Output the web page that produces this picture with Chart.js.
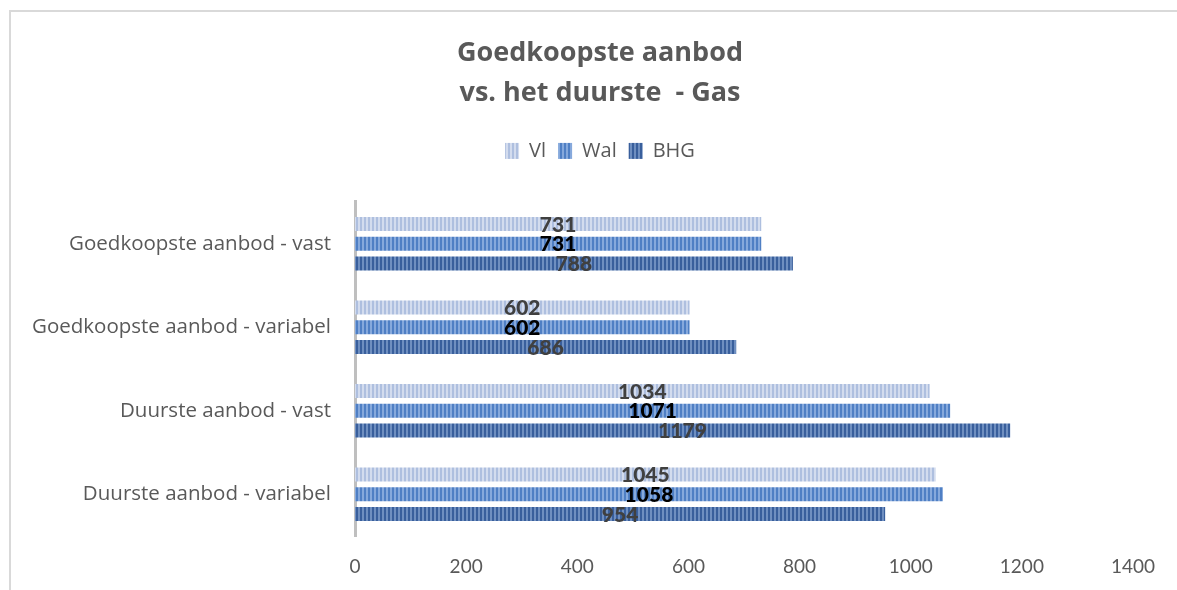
<!DOCTYPE html>
<html>
<head>
<meta charset="utf-8">
<script src="https://cdn.jsdelivr.net/npm/chart.js@4.4.1/dist/chart.umd.min.js"></script>
<style>
  html, body { margin: 0; padding: 0; background: #fff; }
  #wrap { position: relative; width: 1177px; height: 590px; overflow: hidden; }
  #frame { position: absolute; left: 9px; top: 10px; width: 1200px; height: 600px;
           border-top: 2px solid #d9d9d9; border-left: 2px solid #d9d9d9; }
  canvas { position: absolute; left: 0; top: 0; }
</style>
</head>
<body>
<div id="wrap">
  <div id="frame"></div>
  <canvas id="chart" width="1177" height="590"></canvas>
</div>
<script>
const categories = [
    'Goedkoopste aanbod - vast',
    'Goedkoopste aanbod - variabel',
    'Duurste aanbod - vast',
    'Duurste aanbod - variabel'
];
const seriesNames = ['Vl', 'Wal', 'BHG'];
const vlValues = [731, 602, 1034, 1045];
const walValues = [731, 602, 1071, 1058];
const bhgValues = [788, 686, 1179, 954];
const xTicks = [0, 200, 400, 600, 800, 1000, 1200, 1400];

// vertical stripe fill, like the excel pattern
function stripes(base, light) {
    const c = document.createElement('canvas');
    c.width = 4;
    c.height = 4;
    const g = c.getContext('2d');
    g.fillStyle = base;
    g.fillRect(0, 0, 4, 4);
    g.fillStyle = light;
    g.fillRect(2, 0, 2, 4);
    return g.createPattern(c, 'repeat');
}

const fills = [
    stripes('#aebfdf', '#d3dcee'),
    stripes('#4f7fc4', '#86a9dc'),
    stripes('#395f9c', '#6f8fc0')
];
const labelColors = ['#404040', '#000000', '#404040'];

// extra room under the legend
const legendGap = {
    id: 'legendGap',
    beforeInit(chart) {
        const fit = chart.legend.fit;
        chart.legend.fit = function () {
            fit.bind(chart.legend)();
            this.height += 31;
        };
    }
};

const valueLabels = {
    id: 'valueLabels',
    afterDatasetsDraw(chart) {
        const ctx = chart.ctx;
        ctx.save();
        ctx.font = '900 21px Lato, "Open Sans", sans-serif';
        ctx.textAlign = 'center';
        ctx.textBaseline = 'middle';
        chart.data.datasets.forEach((ds, i) => {
            const meta = chart.getDatasetMeta(i);
            meta.data.forEach((bar, j) => {
                ctx.fillStyle = labelColors[i];
                ctx.fillText(String(ds.data[j]), (bar.base + bar.x) / 2, bar.y + 1);
            });
        });
        ctx.restore();
    }
};

new Chart(document.getElementById('chart'), {
    type: 'bar',
    data: {
        labels: categories,
        datasets: [
            { label: seriesNames[0], data: vlValues, backgroundColor: fills[0] },
            { label: seriesNames[1], data: walValues, backgroundColor: fills[1] },
            { label: seriesNames[2], data: bhgValues, backgroundColor: fills[2] }
        ]
    },
    options: {
        indexAxis: 'y',
        responsive: false,
        animation: false,
        categoryPercentage: 0.71,
        barPercentage: 0.71,
        layout: { padding: { left: 67, right: 44, top: 0, bottom: 0 } },
        plugins: {
            title: {
                display: true,
                text: ['Goedkoopste aanbod', 'vs. het duurste  - Gas'],
                color: '#595959',
                font: { family: '"Open Sans", sans-serif', size: 27, weight: 'bold', lineHeight: 1.48 },
                padding: { top: 33, bottom: 16 }
            },
            legend: {
                display: true,
                position: 'top',
                labels: {
                    color: '#595959',
                    font: { family: '"Open Sans", sans-serif', size: 20 },
                    boxWidth: 14,
                    boxHeight: 16,
                    padding: 12
                }
            },
            tooltip: { enabled: false }
        },
        scales: {
            x: {
                min: 0,
                max: 1400,
                afterBuildTicks: axis => { axis.ticks = xTicks.map(v => ({ value: v })); },
                afterFit: axis => { axis.height = 54; },
                grid: { display: false, drawTicks: false },
                border: { display: false },
                ticks: {
                    color: '#595959',
                    font: { family: 'Lato, sans-serif', size: 19 },
                    padding: 19,
                    callback: v => String(v)
                }
            },
            y: {
                afterFit: axis => {
                    axis.width = 288;
                    // let the long category names run past the axis box
                    axis._computeLabelArea = () => undefined;
                },
                grid: { display: false, drawTicks: false },
                border: { display: true, color: '#bfbfbf', width: 3 },
                ticks: {
                    color: '#595959',
                    font: { family: '"Open Sans", sans-serif', size: 20.5 },
                    padding: 24
                }
            }
        }
    },
    plugins: [valueLabels, legendGap]
});
</script>
</body>
</html>
